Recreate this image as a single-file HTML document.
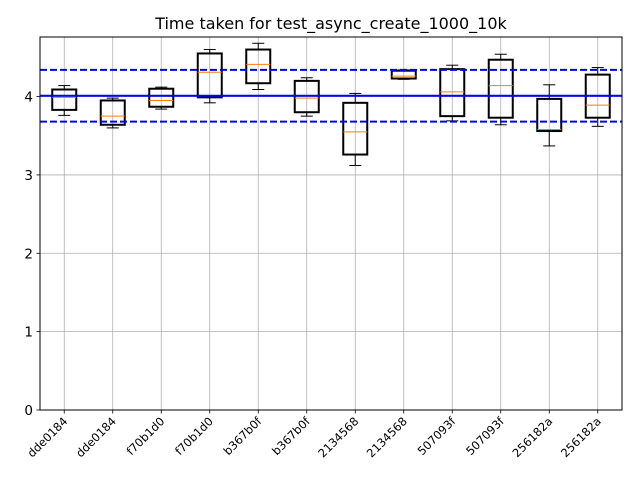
<!DOCTYPE html>
<html><head><meta charset="utf-8"><style>
body{margin:0;background:#fff;}
svg{display:block;font-family:"DejaVu Sans","Liberation Sans",sans-serif;}
</style></head><body>
<svg id="chart" width="640" height="480">
<text x="331" y="29" text-anchor="middle" font-size="16">Time taken for test_async_create_1000_10k</text>
</svg>
<script>
const categories=["dde0184","dde0184","f70b1d0","f70b1d0","b367b0f","b367b0f","2134568","2134568","507093f","507093f","256182a","256182a"];
const whiskerHigh=[4.14,3.98,4.12,4.60,4.68,4.24,4.04,4.34,4.40,4.54,4.15,4.37];
const q3=[4.09,3.95,4.10,4.55,4.60,4.20,3.92,4.33,4.35,4.47,3.97,4.28];
const medians=[3.99,3.75,3.95,4.31,4.41,3.98,3.55,4.26,4.06,4.14,3.58,3.89];
const q1=[3.83,3.64,3.87,3.99,4.17,3.80,3.26,4.23,3.75,3.73,3.56,3.73];
const whiskerLow=[3.76,3.60,3.84,3.92,4.09,3.75,3.12,4.22,3.69,3.64,3.37,3.62];
const meanLine=[4.01];
const bandLines=[4.34,3.68];
const yTicks=[0,1,2,3,4];
const L=40,R=622,T=37,B=410,yMax=4.76;
const NS="http://www.w3.org/2000/svg";
const svg=document.getElementById('chart');
const y=v=>B-(v/yMax)*(B-T);
const step=(R-L)/categories.length;
const x=i=>L+step*(i+0.5);
function el(t,a,p){const e=document.createElementNS(NS,t);for(const k in a)e.setAttribute(k,a[k]);(p||svg).appendChild(e);return e;}
yTicks.forEach(v=>{
  const g=el('line',{x1:L,x2:R,y1:y(v),y2:y(v),stroke:'#b0b0b0','stroke-width':0.8});
  
  
  const tk=el('line',{x1:L-3.5,x2:L,y1:y(v),y2:y(v),stroke:'#000','stroke-width':0.8});
  
  
  const t=el('text',{x:L-7,y:y(v)+5,'text-anchor':'end','font-size':13.5});
  t.textContent=v;
  
  
});
categories.forEach((c,i)=>{
  const g=el('line',{x1:x(i),x2:x(i),y1:T,y2:B,stroke:'#b0b0b0','stroke-width':0.8});
  
  
  const tk=el('line',{x1:x(i),x2:x(i),y1:B,y2:B+3.5,stroke:'#000','stroke-width':0.8});
  
  
  const t=el('text',{x:x(i)+4,y:B+12,'text-anchor':'end','font-size':11.5,transform:`rotate(-45 ${x(i)+4} ${B+12})`});
  t.textContent=c;
  
  
});
const hw=12,cw=6;
categories.forEach((c,i)=>{
  const g=el('g',{});
  
  
  const X=x(i);
  el('line',{x1:X,x2:X,y1:y(q3[i]),y2:y(whiskerHigh[i]),stroke:'#000','stroke-width':1},g);
  el('line',{x1:X,x2:X,y1:y(q1[i]),y2:y(whiskerLow[i]),stroke:'#000','stroke-width':1},g);
  el('line',{x1:X-cw,x2:X+cw,y1:y(whiskerHigh[i]),y2:y(whiskerHigh[i]),stroke:'#000','stroke-width':1},g);
  el('line',{x1:X-cw,x2:X+cw,y1:y(whiskerLow[i]),y2:y(whiskerLow[i]),stroke:'#000','stroke-width':1},g);
  el('rect',{x:X-hw,y:y(q3[i]),width:2*hw,height:y(q1[i])-y(q3[i]),fill:'none',stroke:'#000','stroke-width':2},g);
  el('line',{x1:X-hw,x2:X+hw,y1:y(medians[i]),y2:y(medians[i]),stroke:'#ff7f0e','stroke-width':1},g);
});
meanLine.forEach(v=>{
  const l=el('line',{x1:L,x2:R,y1:y(v),y2:y(v),stroke:'#0000ff','stroke-width':2});
  
  
});
bandLines.forEach(v=>{
  const l=el('line',{x1:L,x2:R,y1:y(v),y2:y(v),stroke:'#0000ff','stroke-width':2,'stroke-dasharray':'7,3'});
  
  
});
const f=el('rect',{x:L,y:T,width:R-L,height:B-T,fill:'none',stroke:'#000','stroke-width':1});


</script>
</body></html>
